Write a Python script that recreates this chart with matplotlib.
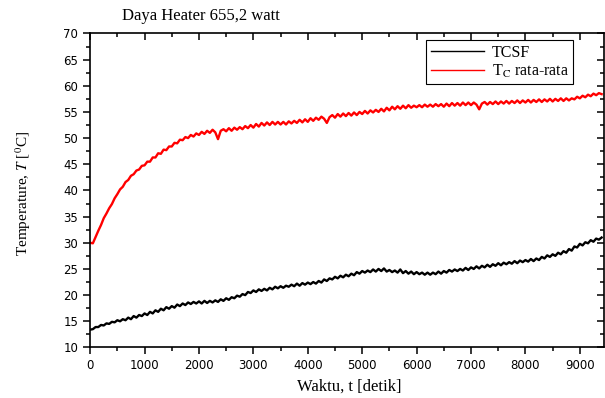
import numpy as np
import matplotlib.pyplot as plt

# waktu sampel (detik), tiap 50 s
waktu = np.arange(0, 9401, 50)

# TCSF (hitam)
tcsf = [
    13.4, 13.5, 13.9, 13.9, 14.3, 14.2, 14.6, 14.5, 14.9, 14.8,
    15.2, 15.0, 15.4, 15.2, 15.7, 15.4, 16.0, 15.7, 16.2, 16.0,
    16.5, 16.2, 16.8, 16.5, 17.1, 16.8, 17.4, 17.1, 17.7, 17.4,
    17.9, 17.6, 18.2, 17.9, 18.4, 18.1, 18.6, 18.3, 18.7, 18.4,
    18.8, 18.4, 18.9, 18.5, 18.9, 18.6, 19.0, 18.7, 19.2, 18.9,
    19.4, 19.1, 19.6, 19.4, 19.9, 19.7, 20.2, 20.0, 20.6, 20.4,
    20.9, 20.6, 21.1, 20.8, 21.2, 20.9, 21.4, 21.1, 21.6, 21.3,
    21.7, 21.4, 21.8, 21.6, 22.0, 21.7, 22.2, 21.8, 22.3, 22.0,
    22.4, 22.1, 22.5, 22.2, 22.7, 22.4, 23.0, 22.7, 23.2, 23.0,
    23.5, 23.2, 23.7, 23.4, 23.9, 23.6, 24.1, 23.8, 24.4, 24.1,
    24.6, 24.3, 24.7, 24.4, 24.9, 24.5, 25.0, 24.6, 25.1, 24.5,
    24.8, 24.4, 24.7, 24.3, 24.9, 24.2, 24.6, 24.1, 24.5, 24.0,
    24.4, 24.0, 24.3, 23.9, 24.3, 23.9, 24.3, 24.0, 24.5, 24.1,
    24.6, 24.3, 24.8, 24.5, 24.9, 24.6, 25.0, 24.7, 25.2, 24.8,
    25.3, 25.0, 25.5, 25.1, 25.6, 25.3, 25.8, 25.4, 25.9, 25.6,
    26.1, 25.7, 26.2, 25.9, 26.3, 26.0, 26.5, 26.1, 26.6, 26.3,
    26.7, 26.4, 26.9, 26.5, 27.0, 26.7, 27.3, 27.0, 27.6, 27.3,
    27.8, 27.5, 28.1, 27.8, 28.4, 28.1, 28.8, 28.5, 29.3, 29.1,
    29.8, 29.5, 30.1, 29.9, 30.5, 30.2, 30.8, 30.6, 31.0,
]

# Tc rata-rata (merah)
tc_rata = [
    30.0, 29.9, 31.1, 32.3, 33.4, 34.7, 35.6, 36.6, 37.4, 38.5,
    39.3, 40.2, 40.7, 41.6, 42.0, 42.8, 43.1, 43.8, 44.0, 44.7,
    44.8, 45.5, 45.5, 46.3, 46.3, 47.1, 47.0, 47.8, 47.7, 48.4,
    48.4, 49.1, 49.0, 49.7, 49.6, 50.2, 50.0, 50.6, 50.3, 50.9,
    50.6, 51.2, 50.8, 51.4, 51.0, 51.6, 51.1, 49.8, 51.4, 51.7,
    51.3, 51.9, 51.4, 52.0, 51.6, 52.1, 51.7, 52.3, 51.9, 52.5,
    52.0, 52.7, 52.2, 52.9, 52.4, 53.0, 52.5, 53.1, 52.6, 53.1,
    52.6, 53.1, 52.6, 53.2, 52.8, 53.3, 52.9, 53.5, 53.0, 53.6,
    53.1, 53.8, 53.3, 53.9, 53.5, 54.1, 53.7, 52.9, 54.0, 54.4,
    53.9, 54.6, 54.1, 54.7, 54.2, 54.8, 54.3, 54.9, 54.4, 55.0,
    54.6, 55.2, 54.7, 55.3, 54.9, 55.4, 55.0, 55.6, 55.1, 55.8,
    55.3, 56.0, 55.5, 56.1, 55.6, 56.2, 55.7, 56.3, 55.8, 56.2,
    55.9, 56.3, 55.9, 56.4, 56.0, 56.4, 56.0, 56.5, 56.1, 56.5,
    56.0, 56.6, 56.1, 56.7, 56.2, 56.7, 56.2, 56.8, 56.3, 56.8,
    56.3, 56.8, 56.4, 55.5, 56.6, 56.9, 56.4, 56.9, 56.5, 57.0,
    56.5, 57.0, 56.6, 57.1, 56.6, 57.1, 56.7, 57.2, 56.7, 57.2,
    56.8, 57.3, 56.8, 57.3, 56.9, 57.4, 56.9, 57.4, 57.0, 57.5,
    57.0, 57.5, 57.1, 57.6, 57.1, 57.6, 57.2, 57.6, 57.4, 57.9,
    57.6, 58.1, 57.8, 58.3, 58.0, 58.5, 58.2, 58.6, 58.4,
]

plt.rcParams['mathtext.fontset'] = 'stix'
serif = 'Liberation Serif'

fig = plt.figure(figsize=(6.05, 3.98), dpi=100)
ax = fig.add_axes([0.149, 0.127, 0.849, 0.789])

ax.plot(waktu, tcsf, color='black', lw=1.7, label='TCSF')
ax.plot(waktu, tc_rata, color='red', lw=1.7, label='T$_{\\rm C}$ rata-rata')

ax.set_xlim(0, 9440)
ax.set_ylim(10, 70)
ax.set_xticks(np.arange(0, 9001, 1000))
ax.set_xticks(np.arange(500, 9401, 1000), minor=True)
ax.set_yticks(np.arange(10, 71, 5))
ax.set_yticks(np.arange(12.5, 70, 5), minor=True)

for s in ax.spines.values():
    s.set_linewidth(1.2)
ax.tick_params(which='both', direction='out', width=1.1, labelsize=8.5)
ax.tick_params(which='major', length=5)
ax.tick_params(which='minor', length=3)
ax.tick_params(which='both', top=True, right=True)
# top and right ticks point inward
for t in ax.xaxis.get_ticklines(minor=False)[1::2] + ax.xaxis.get_ticklines(minor=True)[1::2]:
    t.set_marker(3)
for t in ax.yaxis.get_ticklines(minor=False)[1::2] + ax.yaxis.get_ticklines(minor=True)[1::2]:
    t.set_marker(0)

ax.set_xlabel('Waktu, t [detik]', family=serif, fontsize=12)
ax.xaxis.set_label_coords(0.505, -0.098)
ax.set_ylabel('Temperature, $T$ [$^0$C]', family=serif, fontsize=11)
ax.yaxis.set_label_coords(-0.111, 0.49)

fig.text(0.2017, 0.951, 'Daya Heater 655,2 watt', family=serif, fontsize=12,
         ha='left', va='baseline')

leg = ax.legend(loc='upper right', bbox_to_anchor=(0.941, 0.979),
                prop={'family': serif, 'size': 11.5}, fancybox=False,
                edgecolor='black', framealpha=1, handlelength=3.3,
                handletextpad=0.5, borderpad=0.3, labelspacing=0.1,
                borderaxespad=0)
leg.get_frame().set_linewidth(0.8)
for h in leg.get_lines():
    h.set_linewidth(1.0)

fig.savefig('out.png', dpi=100)
